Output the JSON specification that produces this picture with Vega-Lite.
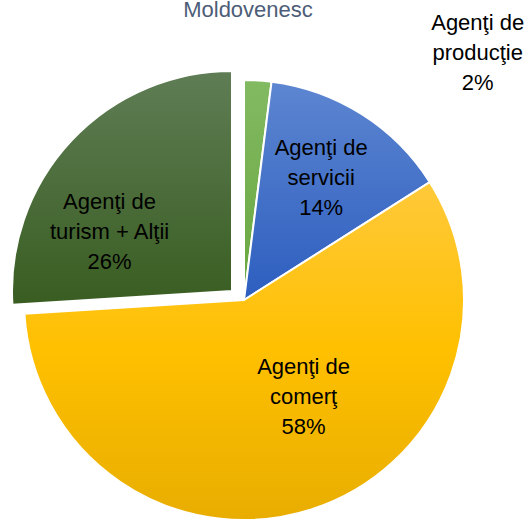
{
  "$schema": "https://vega.github.io/schema/vega-lite/v6.json",
  "width": 440,
  "height": 440,
  "autosize": {"type": "none"},
  "padding": {"left": 24, "top": 80, "right": 63, "bottom": 7},
  "background": "white",
  "title": {
    "text": "Moldovenesc",
    "anchor": "middle",
    "frame": "group",
    "baseline": "alphabetic",
    "offset": -27,
    "dx": 4,
    "font": "Liberation Sans",
    "fontSize": 22,
    "fontWeight": "normal",
    "color": "#4d5d78"
  },
  "config": {"view": {"stroke": null}},
  "data": {
    "values": [
      {"cat": "Agenţi de producţie", "value": 2, "order": 1, "label": ["Agenţi de", "producţie", "2%"]},
      {"cat": "Agenţi de servicii", "value": 14, "order": 2, "label": ["Agenţi de", "servicii", "14%"]},
      {"cat": "Agenţi de comerţ", "value": 58, "order": 3, "label": ["Agenţi de", "comerţ", "58%"]},
      {"cat": "Agenţi de turism + Alţii", "value": 26, "order": 4, "label": ["Agenţi de", "turism + Alţii", "26%"]}
    ]
  },
  "layer": [
    {
      "transform": [
        {"stack": "value", "groupby": [], "sort": [{"field": "order", "order": "ascending"}], "as": ["v0", "v1"]},
        {"filter": "datum.order === 1"}
      ],
      "mark": {"type": "arc", "stroke": "white", "strokeWidth": 2,
        "fill": {"gradient": "linear", "x1": 0, "y1": 0, "x2": 0, "y2": 1, "stops": [{"offset": 0, "color": "#82ba62"}, {"offset": 1, "color": "#68a63f"}]}},
      "encoding": {
        "theta": {"field": "v0", "type": "quantitative", "scale": {"domain": [0, 100]}},
        "theta2": {"field": "v1"}
      }
    },
    {
      "transform": [
        {"stack": "value", "groupby": [], "sort": [{"field": "order", "order": "ascending"}], "as": ["v0", "v1"]},
        {"filter": "datum.order === 2"}
      ],
      "mark": {"type": "arc", "stroke": "white", "strokeWidth": 2,
        "fill": {"gradient": "linear", "x1": 0, "y1": 0, "x2": 0, "y2": 1, "stops": [{"offset": 0, "color": "#5d86d1"}, {"offset": 1, "color": "#2d5ebf"}]}},
      "encoding": {
        "theta": {"field": "v0", "type": "quantitative", "scale": {"domain": [0, 100]}},
        "theta2": {"field": "v1"}
      }
    },
    {
      "transform": [
        {"stack": "value", "groupby": [], "sort": [{"field": "order", "order": "ascending"}], "as": ["v0", "v1"]},
        {"filter": "datum.order === 3"}
      ],
      "mark": {"type": "arc", "stroke": "white", "strokeWidth": 2,
        "fill": {"gradient": "linear", "x1": 0, "y1": 0, "x2": 0, "y2": 1, "stops": [{"offset": 0, "color": "#ffc93a"}, {"offset": 0.5, "color": "#ffc000"}, {"offset": 1, "color": "#e8ad00"}]}},
      "encoding": {
        "theta": {"field": "v0", "type": "quantitative", "scale": {"domain": [0, 100]}},
        "theta2": {"field": "v1"}
      }
    },
    {
      "transform": [
        {"stack": "value", "groupby": [], "sort": [{"field": "order", "order": "ascending"}], "as": ["v0", "v1"]},
        {"filter": "datum.order === 4"}
      ],
      "mark": {"type": "arc", "stroke": "white", "strokeWidth": 2, "xOffset": -12, "yOffset": -9,
        "fill": {"gradient": "linear", "x1": 0, "y1": 0, "x2": 0, "y2": 1, "stops": [{"offset": 0, "color": "#5f7d55"}, {"offset": 1, "color": "#395d21"}]}},
      "encoding": {
        "theta": {"field": "v0", "type": "quantitative", "scale": {"domain": [0, 100]}},
        "theta2": {"field": "v1"}
      }
    },
    {
      "mark": {"type": "text", "radius": 144, "dy": -30, "font": "Liberation Sans", "fontSize": 22, "lineHeight": 30, "align": "center", "baseline": "middle", "color": "black"},
      "encoding": {
        "theta": {"field": "value", "type": "quantitative", "stack": true, "scale": {"domain": [0, 100]}},
        "order": {"field": "order", "type": "quantitative"},
        "text": {"condition": {"test": "datum.order === 2", "field": "label"}, "value": ""}
      }
    },
    {
      "mark": {"type": "text", "radius": 112, "dx": 25, "dy": -40, "font": "Liberation Sans", "fontSize": 22, "lineHeight": 30, "align": "center", "baseline": "middle", "color": "black"},
      "encoding": {
        "theta": {"field": "value", "type": "quantitative", "stack": true, "scale": {"domain": [0, 100]}},
        "order": {"field": "order", "type": "quantitative"},
        "text": {"condition": {"test": "datum.order === 3", "field": "label"}, "value": ""}
      }
    },
    {
      "mark": {"type": "text", "radius": 135, "dx": -36, "dy": -6, "font": "Liberation Sans", "fontSize": 22, "lineHeight": 30, "align": "center", "baseline": "middle", "color": "black"},
      "encoding": {
        "theta": {"field": "value", "type": "quantitative", "stack": true, "scale": {"domain": [0, 100]}},
        "order": {"field": "order", "type": "quantitative"},
        "text": {"condition": {"test": "datum.order === 4", "field": "label"}, "value": ""}
      }
    },
    {
      "mark": {"type": "text", "radius": 250, "dx": 218, "dy": -27, "font": "Liberation Sans", "fontSize": 22, "lineHeight": 30, "align": "center", "baseline": "middle", "color": "black"},
      "encoding": {
        "theta": {"field": "value", "type": "quantitative", "stack": true, "scale": {"domain": [0, 100]}},
        "order": {"field": "order", "type": "quantitative"},
        "text": {"condition": {"test": "datum.order === 1", "field": "label"}, "value": ""}
      }
    }
  ]
}
